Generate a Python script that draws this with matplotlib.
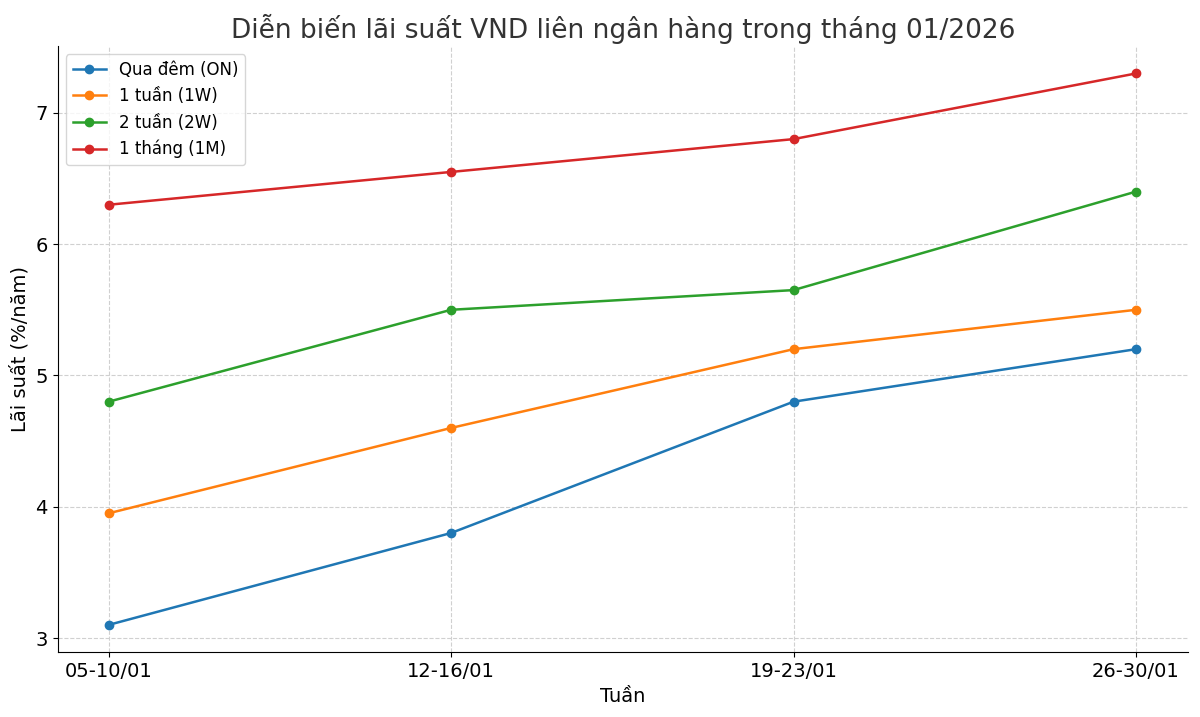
import matplotlib
matplotlib.use("Agg")
import matplotlib.pyplot as plt

weeks = ["05-10/01", "12-16/01", "19-23/01", "26-30/01"]
on_rate = [3.1, 3.8, 4.8, 5.2]
w1_rate = [3.95, 4.6, 5.2, 5.5]
w2_rate = [4.8, 5.5, 5.65, 6.4]
m1_rate = [6.3, 6.55, 6.8, 7.3]
series = [
    ("Qua đêm (ON)", on_rate, "#1f77b4"),
    ("1 tuần (1W)", w1_rate, "#ff7f0e"),
    ("2 tuần (2W)", w2_rate, "#2ca02c"),
    ("1 tháng (1M)", m1_rate, "#d62728"),
]

fig = plt.figure(figsize=(12, 7.17), dpi=100)
ax = fig.add_axes([0.048, 0.09, 0.942, 0.846])
x = range(len(weeks))
for label, vals, color in series:
    ax.plot(x, vals, "o-", color=color, lw=1.8, ms=6, label=label)

ax.set_xticks(list(x))
ax.set_xticklabels(weeks, fontsize=14)
ax.tick_params(axis="y", labelsize=14)
ax.set_yticks([3, 4, 5, 6, 7])
ax.set_ylim(2.89, 7.51)
ax.set_xlim(-0.149, 3.152)
ax.grid(True, ls="--", color="#d0d0d0", lw=0.8)
ax.spines["top"].set_visible(False)
ax.spines["right"].set_visible(False)
ax.set_xlabel("Tuần", fontsize=14)
ax.set_ylabel("Lãi suất (%/năm)", fontsize=14)
ax.set_title("Diễn biến lãi suất VND liên ngân hàng trong tháng 01/2026", fontsize=19, color="#333333")
ax.legend(loc="upper left", fontsize=12, frameon=True)
fig.savefig("out.png")
